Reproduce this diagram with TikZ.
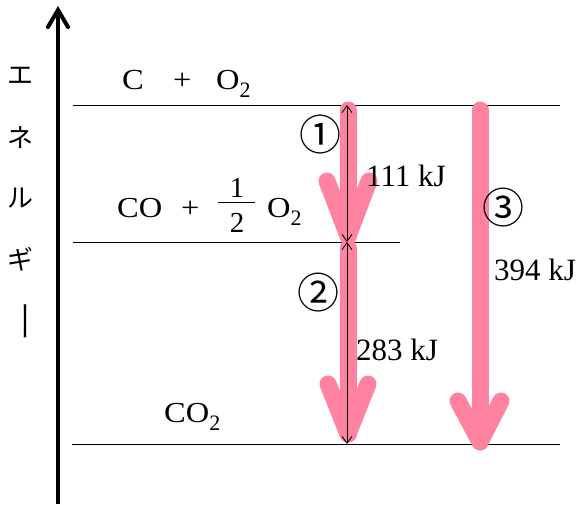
\documentclass[tikz,border=0pt]{standalone}
\usepackage{fontspec}
\setmainfont{Liberation Serif}
\newfontfamily\jpfont{Noto Sans CJK JP}
\usetikzlibrary{arrows.meta,calc}
\definecolor{pinkarrow}{RGB}{255,130,160}
\newcommand{\subtwo}{\raisebox{-0.3em}{\fontsize{22}{22}\selectfont 2}}
\newcommand{\wide}[1]{\scalebox{1.12}[1]{#1}}
\tikzset{
  level/.style={line width=0.9pt, black},
  chem/.style={inner sep=0pt, anchor=base west, font=\fontsize{29}{29}\selectfont},
  frac/.style={inner sep=0pt, anchor=base, font=\fontsize{29}{29}\selectfont},
  kj/.style={inner sep=0pt, anchor=base west, font=\fontsize{31}{31}\selectfont},
  circnum/.style={inner sep=0pt, font=\jpfont\fontsize{42}{42}\selectfont},
  jp/.style={inner sep=0pt, font=\jpfont\fontsize{26}{26}\selectfont},
  fat/.style={pinkarrow, line width=17pt, line cap=round, line join=round},
  dbl/.style={line width=0.8pt, {Straight Barb[length=7pt,width=10pt]}-{Straight Barb[length=7pt,width=10pt]}},
}
\begin{document}
\begin{tikzpicture}[x=1pt,y=-1pt]
\useasboundingbox (0,0) rectangle (584,504);
% energy axis
\coordinate (axB) at (58,504);
\coordinate (axT) at (58,10);
\draw[line width=4pt] (axB) -- (axT);
\draw[line width=4pt, line join=miter, line cap=round] ($(axT)+(-10,17)$) -- (axT) -- ($(axT)+(10,17)$);
\node[jp] (j1) at (21,76) {エ};
\node[jp] (j2) at (21,138) {ネ};
\node[jp] (j3) at (21,198) {ル};
\node[jp] (j4) at (21,259) {ギ};
\node[jp, rotate=-90] (j5) at (21,321) {\scalebox{1.6}[1]{ー}};
% levels
\coordinate (L1a) at (73,105); \coordinate (L1b) at (560,105);
\coordinate (L2a) at (73,242); \coordinate (L2b) at (400,242);
\coordinate (L3a) at (72,444); \coordinate (L3b) at (560,444);
\draw[level] (L1a) -- (L1b);
\draw[level] (L2a) -- (L2b);
\draw[level] (L3a) -- (L3b);
% formulas
\node[chem] (c1) at (122,89) {\wide{C}};
\node[chem] (p1) at (173,89) {\wide{+}};
\node[chem] (o1) at (216,89) {\wide{O}\subtwo};
\node[chem] (co) at (117,217) {\wide{CO}};
\node[chem] (p2) at (181,217) {\wide{+}};
\node[frac] (n1) at (237,197) {1};
\node[frac] (d1) at (237,232) {2};
\coordinate (fbA) at (218,202); \coordinate (fbB) at (255,202);
\draw[line width=0.8pt] (fbA) -- (fbB);
\node[chem] (o2) at (267,217) {\wide{O}\subtwo};
\node[chem] (co2) at (164,422) {\wide{CO}\subtwo};
% pink arrows
\coordinate (a1s) at (348,110); \coordinate (a1t) at (348,236);
\coordinate (a1l) at (327,181); \coordinate (a1r) at (369,181);
\draw[fat] (a1s) -- (a1t);
\draw[fat] (a1l) -- (a1t) -- (a1r);
\coordinate (a2s) at (348,248); \coordinate (a2t) at (348,434);
\coordinate (a2l) at (328,384); \coordinate (a2r) at (368,384);
\draw[fat] (a2s) -- (a2t);
\draw[fat] (a2l) -- (a2t) -- (a2r);
\coordinate (a3s) at (480,110); \coordinate (a3t) at (480,442);
\coordinate (a3l) at (458,401); \coordinate (a3r) at (501,401);
\draw[fat] (a3s) -- (a3t);
\draw[fat] (a3l) -- (a3t) -- (a3r);
% double arrows
\coordinate (d1a) at (347,105); \coordinate (d1b) at (347,242);
\coordinate (d2b) at (347,444);
\draw[dbl] (d1a) -- (d1b);
\draw[dbl] (d1b) -- (d2b);
% labels
\node[circnum] (n1c) at (320,135) {①};
\node[circnum] (n2c) at (318,293) {②};
\node[circnum] (n3c) at (503,208) {③};
\node[kj] (k1) at (366,186) {111 kJ};
\node[kj] (k2) at (356,360) {283 kJ};
\node[kj] (k3) at (494,280) {394 kJ};
\end{tikzpicture}
\end{document}
